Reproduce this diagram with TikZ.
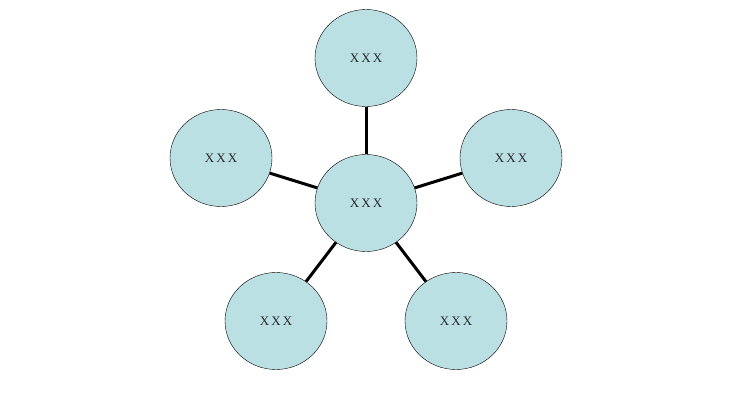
\documentclass[tikz,border=0pt]{standalone}
\usepackage{fontspec}
\newfontfamily\bubblefont{Liberation Serif}[LetterSpace=16]
\usetikzlibrary{shapes}
\definecolor{bubble}{RGB}{187,224,227}
\definecolor{ink}{RGB}{40,40,40}
\tikzset{every node/.style={font=\bubblefont\fontsize{13}{13}\selectfont},
bubble/.style={ellipse,draw=black,fill=bubble,text=ink,
  minimum width=102pt,minimum height=97pt,inner sep=0pt},
spoke/.style={line width=3pt}}

\begin{document}
\begin{tikzpicture}[x=1pt,y=-1pt]
\useasboundingbox (0,0) rectangle (733,409);
\node[bubble] (hub) at (366,203) {XXX};
\node[bubble] (top) at (366,58) {XXX};
\node[bubble] (left) at (221,158) {XXX};
\node[bubble] (right) at (511,158) {XXX};
\node[bubble] (lowleft) at (276,321) {XXX};
\node[bubble] (lowright) at (456,321) {XXX};
\foreach \n in {top,left,right,lowleft,lowright}
  \draw[spoke] (hub) -- (\n);
\end{tikzpicture}
\end{document}
